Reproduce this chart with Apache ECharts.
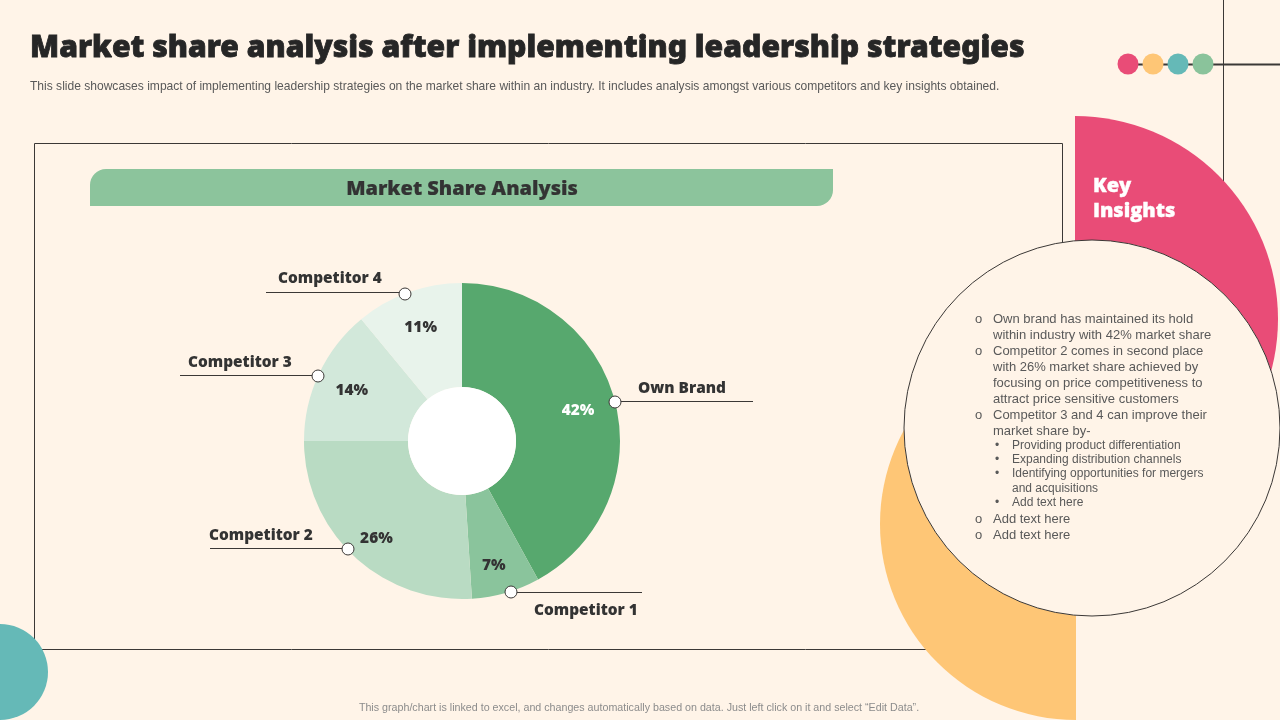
<!DOCTYPE html>
<html><head><meta charset="utf-8">
<style>html,body{margin:0;padding:0;background:#FFF4E8}#c{width:1280px;height:720px}</style>
<script src="https://cdn.jsdelivr.net/npm/echarts@6/dist/echarts.min.js"></script>
</head><body><div id="c"></div>
<script>
const categories = ['Own Brand','Competitor 1','Competitor 2','Competitor 3','Competitor 4'];
const shares = [42,7,26,14,11];
const sliceColors = ['#57A86E','#8AC49C','#B9DBC3','#D2E8DA','#E8F3EB'];
const percentColors = ['#FFFFFF','#333333','#333333','#333333','#333333'];
const titleText = 'Market share analysis after implementing leadership strategies';
const subtitleText = 'This slide showcases impact of implementing leadership strategies on the market share within an industry. It includes analysis amongst various competitors and key insights obtained.';
const footerText = 'This graph/chart is linked to excel, and changes automatically based on data. Just left click on it and select “Edit Data”.';
const headerText = 'Market Share Analysis';
const insightLines = [
 ['o','Own brand has maintained its hold',0],
 ['','within industry with 42% market share',0],
 ['o','Competitor 2 comes in second place',0],
 ['','with 26% market share achieved by',0],
 ['','focusing on price competitiveness to',0],
 ['','attract price sensitive customers',0],
 ['o','Competitor 3 and 4 can improve their',0],
 ['','market share by-',0],
 ['•','Providing product differentiation',1],
 ['•','Expanding distribution channels',1],
 ['•','Identifying opportunities for mergers',1],
 ['','and acquisitions',1],
 ['•','Add text here',1],
 ['o','Add text here',0],
 ['o','Add text here',0]
];
const insightY = [319,335,351,367,383,399,415,431,446,460,474,489,503,519,535];
// callouts: label anchor, dot, line end
const callouts = [
 {lx:638,ly:389,dot:[615,402],end:[753,401]},
 {lx:534,ly:611,dot:[511,592],end:[642,592]},
 {lx:209,ly:536,dot:[348,549],end:[210,548]},
 {lx:188,ly:363,dot:[318,376],end:[180,375]},
 {lx:278,ly:279,dot:[405,294],end:[266,292]}
];
const percentNudge = [[-5,1],[-3,5],[0,6],[3,3],[1,4]];
const BG='#FFF4E8', DARK='#3B3836', PINK='#E94C77', ORANGE='#FEC676', TEAL='#65B9B7', GREEN='#8AC39B';
const sans='"Liberation Sans",Arial,sans-serif', heavy='"Noto Sans",sans-serif', semi='"Open Sans",sans-serif';

const g=[];
const circle=(cx,cy,r,fill,z,stroke,lw)=>g.push({type:'circle',shape:{cx,cy,r},style:{fill,stroke:stroke||null,lineWidth:lw||0},z,silent:true});
const line=(x1,y1,x2,y2,lw,z)=>g.push({type:'line',shape:{x1,y1,x2,y2},style:{stroke:DARK,lineWidth:lw},z,silent:true});
const text=(x,y,t,font,fill,z,align,bold)=>g.push({type:'text',x,y,style:Object.assign({text:t,font,fill,align:align||'left',verticalAlign:'middle'},bold?{stroke:fill,lineWidth:bold}:{}),z,silent:true});

// decorative background shapes (under the pie)
line(1223.5,0,1223.5,190,1,-20);
line(1127,64.5,1280,64.5,2,-20);
[[1128,PINK],[1153,ORANGE],[1178,TEAL],[1203,GREEN]].forEach(d=>circle(d[0],64,10.5,d[1],-19));
g.push({type:'rect',shape:{x:34.5,y:143.5,width:1028,height:506},style:{fill:null,stroke:DARK,lineWidth:1},z:-18,silent:true});
g.push({type:'sector',shape:{cx:1075,cy:319,r:203,startAngle:-Math.PI/2,endAngle:Math.PI/2},style:{fill:PINK},z:-17,silent:true});
g.push({type:'sector',shape:{cx:1076,cy:524,r:196,startAngle:Math.PI/2,endAngle:Math.PI*1.5},style:{fill:ORANGE},z:-17,silent:true});
circle(0,672,48,TEAL,-17);
circle(1092,428,188,BG,-16,DARK,1);

g.push({type:'rect',shape:{x:90,y:169,width:743,height:37,r:[16,0,16,0]},style:{fill:'#8CC49C'},z:-15,silent:true});
text(462,189,headerText,'800 20px '+semi,'#333333',-14,'center',0.2);
text(30,48,titleText,'900 30.15px '+heavy,'#262626',10,'left',0.8);
text(30,87,subtitleText,'12.05px '+sans,'#595959',10);
text(639,708,footerText,'10.7px '+sans,'#8C8C8C',10,'center');
text(1093,186,'Key','800 20px '+semi,'#FFFFFF',10,'left',0.4);
text(1093,211,'Insights','800 20px '+semi,'#FFFFFF',10,'left',0.4);

insightLines.forEach((l,i)=>{
  const y=insightY[i], sub=l[2];
  const size=sub?'12px ':'13px ';
  if(l[0]) text(sub?995:975,y,l[0],size+sans,'#595959',10);
  text(sub?1012:993,y,l[1],size+sans,'#595959',10);
});

// hole and callouts (above the pie)
circle(462,441,54,'#FFFFFF',5);
callouts.forEach(c=>{
  line(c.dot[0],c.end[1]+0.5,c.end[0],c.end[1]+0.5,1,6);
  circle(c.dot[0],c.dot[1],6,'#FFFFFF',7,DARK,1);
});

const data=categories.map((name,i)=>({name,value:shares[i],itemStyle:{color:sliceColors[i]}}));
const option={
  animation:false,
  backgroundColor:BG,
  graphic:{elements:g},
  series:[
   {type:'pie',center:[462,441],radius:[54,158],startAngle:90,clockwise:true,silent:true,
    data,
    label:{show:true,position:'outside',formatter:'{b}',color:'#333333',
           fontFamily:'Open Sans',fontWeight:800,fontSize:15.4},
    labelLine:{show:false},
    labelLayout:p=>({x:callouts[p.dataIndex].lx,y:callouts[p.dataIndex].ly,align:'left',verticalAlign:'middle',hideOverlap:false,moveOverlap:null})
   },
   {type:'pie',center:[462,441],radius:[86,158],startAngle:90,clockwise:true,silent:true,z:3,
    data:categories.map((name,i)=>({name,value:shares[i],itemStyle:{color:'rgba(0,0,0,0)'},
       label:{color:percentColors[i],offset:percentNudge[i]}})),
    label:{show:true,position:'inside',formatter:'{c}%',fontFamily:'Open Sans',fontWeight:800,fontSize:15.4},
    labelLine:{show:false}
   }
  ]
};
const chart=echarts.init(document.getElementById('c'),null,{renderer:'canvas',width:1280,height:720});
chart.setOption(option);
</script></body></html>
